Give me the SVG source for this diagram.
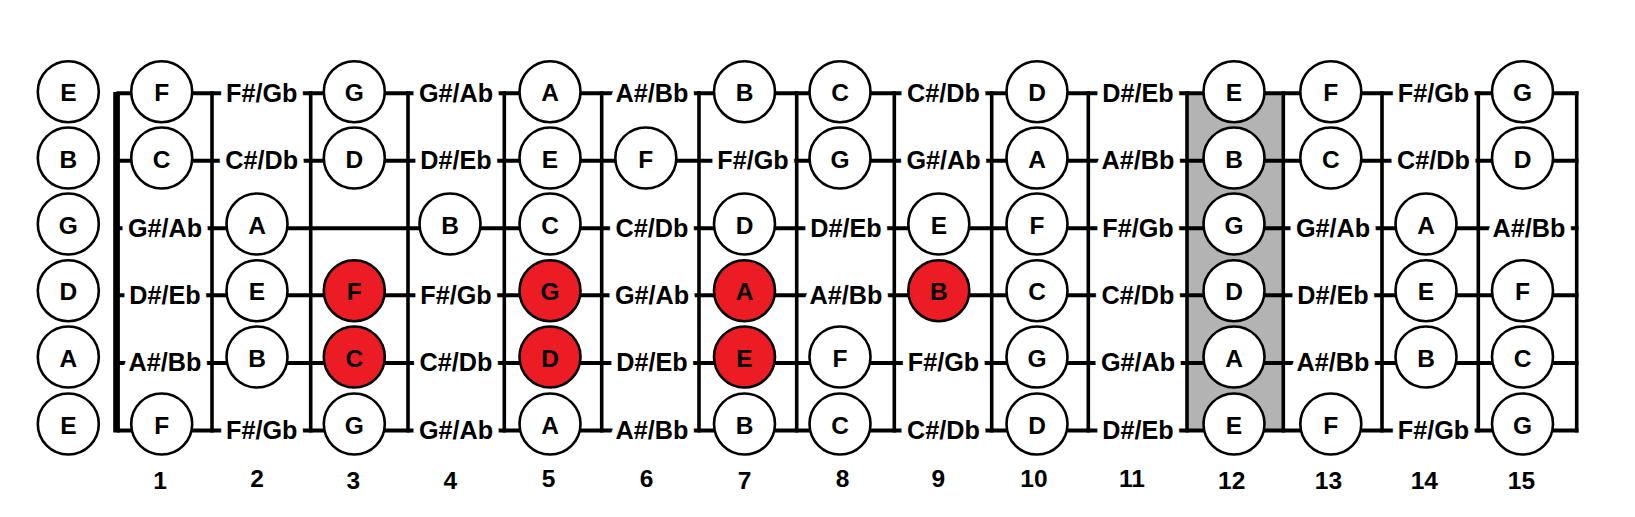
<svg xmlns="http://www.w3.org/2000/svg" width="1635" height="517" viewBox="0 0 1635 517">
<style>
.bg{fill:#ffffff}
.str{stroke:#000;stroke-width:4;fill:none}
.fret{stroke:#000;stroke-width:3.6;fill:none}
.c{fill:#ffffff;stroke:#000;stroke-width:2.6}
.red{fill:#ec1c24}
text{font-family:"Liberation Sans",Arial,Helvetica,sans-serif;font-weight:bold;font-size:24.5px;text-anchor:middle;fill:#000}
.l{font-size:25.2px;stroke:#ffffff;stroke-width:13;stroke-linejoin:round;paint-order:stroke}
</style>
<rect class="bg" x="0" y="0" width="1635" height="517"/>
<rect id="fret12-highlight" x="1187" y="94" width="96.3" height="337.5" fill="#b3b3b3"/>
<g id="connectors">
<line class="str" x1="116.5" y1="93.3" x2="1578.5" y2="93.3"/>
<line class="str" x1="116.5" y1="160.8" x2="1578.5" y2="160.8"/>
<line class="str" x1="116.5" y1="228.2" x2="1578.5" y2="228.2"/>
<line class="str" x1="116.5" y1="295.3" x2="1578.5" y2="295.3"/>
<line class="str" x1="116.5" y1="363" x2="1578.5" y2="363"/>
<line class="str" x1="116.5" y1="430.5" x2="1578.5" y2="430.5"/>
<line class="fret" x1="212" y1="91.3" x2="212" y2="432.5"/>
<line class="fret" x1="310.7" y1="91.3" x2="310.7" y2="432.5"/>
<line class="fret" x1="408" y1="91.3" x2="408" y2="432.5"/>
<line class="fret" x1="504.3" y1="91.3" x2="504.3" y2="432.5"/>
<line class="fret" x1="601.7" y1="91.3" x2="601.7" y2="432.5"/>
<line class="fret" x1="699" y1="91.3" x2="699" y2="432.5"/>
<line class="fret" x1="796.7" y1="91.3" x2="796.7" y2="432.5"/>
<line class="fret" x1="894.3" y1="91.3" x2="894.3" y2="432.5"/>
<line class="fret" x1="991.7" y1="91.3" x2="991.7" y2="432.5"/>
<line class="fret" x1="1088.3" y1="91.3" x2="1088.3" y2="432.5"/>
<line class="fret" x1="1187" y1="91.3" x2="1187" y2="432.5"/>
<line class="fret" x1="1283.3" y1="91.3" x2="1283.3" y2="432.5"/>
<line class="fret" x1="1382" y1="91.3" x2="1382" y2="432.5"/>
<line class="fret" x1="1478.3" y1="91.3" x2="1478.3" y2="432.5"/>
<line class="fret" x1="1576.7" y1="91.3" x2="1576.7" y2="432.5"/>
<rect id="nut" x="113.2" y="92" width="6.7" height="340.5" fill="#000"/>
</g>
<g id="open">
<g id="o1"><circle class="c" cx="68.3" cy="91.7" r="30.5"/><text x="68.3" y="101.2">E</text></g>
<g id="o2"><circle class="c" cx="68.3" cy="158" r="30.5"/><text x="68.3" y="167.5">B</text></g>
<g id="o3"><circle class="c" cx="68.3" cy="224" r="30.5"/><text x="68.3" y="233.5">G</text></g>
<g id="o4"><circle class="c" cx="68.3" cy="290.7" r="30.5"/><text x="68.3" y="300.2">D</text></g>
<g id="o5"><circle class="c" cx="68.3" cy="357" r="30.5"/><text x="68.3" y="366.5">A</text></g>
<g id="o6"><circle class="c" cx="68.3" cy="424" r="30.5"/><text x="68.3" y="433.5">E</text></g>
</g>
<g id="row1">
<g id="r1f1"><circle class="c" cx="161.7" cy="91.7" r="30.5"/><text x="161.7" y="101.2">F</text></g>
<g id="r1f2"><text class="l" x="261.7" y="101.7">F#/Gb</text></g>
<g id="r1f3"><circle class="c" cx="354.3" cy="91.7" r="30.5"/><text x="354.3" y="101.2">G</text></g>
<g id="r1f4"><text class="l" x="456" y="101.7">G#/Ab</text></g>
<g id="r1f5"><circle class="c" cx="550" cy="91.7" r="30.5"/><text x="550" y="101.2">A</text></g>
<g id="r1f6"><text class="l" x="652" y="101.7">A#/Bb</text></g>
<g id="r1f7"><circle class="c" cx="744.5" cy="91.7" r="30.5"/><text x="744.5" y="101.2">B</text></g>
<g id="r1f8"><circle class="c" cx="840" cy="91.7" r="30.5"/><text x="840" y="101.2">C</text></g>
<g id="r1f9"><text class="l" x="943.5" y="101.7">C#/Db</text></g>
<g id="r1f10"><circle class="c" cx="1037" cy="91.7" r="30.5"/><text x="1037" y="101.2">D</text></g>
<g id="r1f11"><text class="l" x="1138" y="101.7">D#/Eb</text></g>
<g id="r1f12"><circle class="c" cx="1234" cy="91.7" r="30.5"/><text x="1234" y="101.2">E</text></g>
<g id="r1f13"><circle class="c" cx="1330.8" cy="91.7" r="30.5"/><text x="1330.8" y="101.2">F</text></g>
<g id="r1f14"><text class="l" x="1433.5" y="101.7">F#/Gb</text></g>
<g id="r1f15"><circle class="c" cx="1522.5" cy="91.7" r="30.5"/><text x="1522.5" y="101.2">G</text></g>
</g>
<g id="row2">
<g id="r2f1"><circle class="c" cx="161.7" cy="158" r="30.5"/><text x="161.7" y="167.5">C</text></g>
<g id="r2f2"><text class="l" x="261.7" y="169.2">C#/Db</text></g>
<g id="r2f3"><circle class="c" cx="354.3" cy="158" r="30.5"/><text x="354.3" y="167.5">D</text></g>
<g id="r2f4"><text class="l" x="456" y="169.2">D#/Eb</text></g>
<g id="r2f5"><circle class="c" cx="550" cy="158" r="30.5"/><text x="550" y="167.5">E</text></g>
<g id="r2f6"><circle class="c" cx="645.8" cy="158" r="30.5"/><text x="645.8" y="167.5">F</text></g>
<g id="r2f7"><text class="l" x="753" y="169.2">F#/Gb</text></g>
<g id="r2f8"><circle class="c" cx="840" cy="158" r="30.5"/><text x="840" y="167.5">G</text></g>
<g id="r2f9"><text class="l" x="943.5" y="169.2">G#/Ab</text></g>
<g id="r2f10"><circle class="c" cx="1037" cy="158" r="30.5"/><text x="1037" y="167.5">A</text></g>
<g id="r2f11"><text class="l" x="1138" y="169.2">A#/Bb</text></g>
<g id="r2f12"><circle class="c" cx="1234" cy="158" r="30.5"/><text x="1234" y="167.5">B</text></g>
<g id="r2f13"><circle class="c" cx="1330.8" cy="158" r="30.5"/><text x="1330.8" y="167.5">C</text></g>
<g id="r2f14"><text class="l" x="1433.5" y="169.2">C#/Db</text></g>
<g id="r2f15"><circle class="c" cx="1522.5" cy="158" r="30.5"/><text x="1522.5" y="167.5">D</text></g>
</g>
<g id="row3">
<g id="r3f1"><text class="l" x="165" y="236.6">G#/Ab</text></g>
<g id="r3f2"><circle class="c" cx="257" cy="224" r="30.5"/><text x="257" y="233.5">A</text></g>
<g id="r3f4"><circle class="c" cx="450" cy="224" r="30.5"/><text x="450" y="233.5">B</text></g>
<g id="r3f5"><circle class="c" cx="550" cy="224" r="30.5"/><text x="550" y="233.5">C</text></g>
<g id="r3f6"><text class="l" x="652" y="236.6">C#/Db</text></g>
<g id="r3f7"><circle class="c" cx="744.5" cy="224" r="30.5"/><text x="744.5" y="233.5">D</text></g>
<g id="r3f8"><text class="l" x="846" y="236.6">D#/Eb</text></g>
<g id="r3f9"><circle class="c" cx="938.8" cy="224" r="30.5"/><text x="938.8" y="233.5">E</text></g>
<g id="r3f10"><circle class="c" cx="1037" cy="224" r="30.5"/><text x="1037" y="233.5">F</text></g>
<g id="r3f11"><text class="l" x="1138" y="236.6">F#/Gb</text></g>
<g id="r3f12"><circle class="c" cx="1234" cy="224" r="30.5"/><text x="1234" y="233.5">G</text></g>
<g id="r3f13"><text class="l" x="1333" y="236.6">G#/Ab</text></g>
<g id="r3f14"><circle class="c" cx="1426" cy="224" r="30.5"/><text x="1426" y="233.5">A</text></g>
<g id="r3f15"><text class="l" x="1529" y="236.6">A#/Bb</text></g>
</g>
<g id="row4">
<g id="r4f1"><text class="l" x="165" y="303.7">D#/Eb</text></g>
<g id="r4f2"><circle class="c" cx="257" cy="290.7" r="30.5"/><text x="257" y="300.2">E</text></g>
<g id="r4f3"><circle class="c red" cx="354.3" cy="290.7" r="30.5"/><text x="354.3" y="300.2">F</text></g>
<g id="r4f4"><text class="l" x="456" y="303.7">F#/Gb</text></g>
<g id="r4f5"><circle class="c red" cx="550" cy="290.7" r="30.5"/><text x="550" y="300.2">G</text></g>
<g id="r4f6"><text class="l" x="652" y="303.7">G#/Ab</text></g>
<g id="r4f7"><circle class="c red" cx="744.5" cy="290.7" r="30.5"/><text x="744.5" y="300.2">A</text></g>
<g id="r4f8"><text class="l" x="846" y="303.7">A#/Bb</text></g>
<g id="r4f9"><circle class="c red" cx="938.8" cy="290.7" r="30.5"/><text x="938.8" y="300.2">B</text></g>
<g id="r4f10"><circle class="c" cx="1037" cy="290.7" r="30.5"/><text x="1037" y="300.2">C</text></g>
<g id="r4f11"><text class="l" x="1138" y="303.7">C#/Db</text></g>
<g id="r4f12"><circle class="c" cx="1234" cy="290.7" r="30.5"/><text x="1234" y="300.2">D</text></g>
<g id="r4f13"><text class="l" x="1333" y="303.7">D#/Eb</text></g>
<g id="r4f14"><circle class="c" cx="1426" cy="290.7" r="30.5"/><text x="1426" y="300.2">E</text></g>
<g id="r4f15"><circle class="c" cx="1522.5" cy="290.7" r="30.5"/><text x="1522.5" y="300.2">F</text></g>
</g>
<g id="row5">
<g id="r5f1"><text class="l" x="165" y="371.4">A#/Bb</text></g>
<g id="r5f2"><circle class="c" cx="257" cy="357" r="30.5"/><text x="257" y="366.5">B</text></g>
<g id="r5f3"><circle class="c red" cx="354.3" cy="357" r="30.5"/><text x="354.3" y="366.5">C</text></g>
<g id="r5f4"><text class="l" x="456" y="371.4">C#/Db</text></g>
<g id="r5f5"><circle class="c red" cx="550" cy="357" r="30.5"/><text x="550" y="366.5">D</text></g>
<g id="r5f6"><text class="l" x="652" y="371.4">D#/Eb</text></g>
<g id="r5f7"><circle class="c red" cx="744.5" cy="357" r="30.5"/><text x="744.5" y="366.5">E</text></g>
<g id="r5f8"><circle class="c" cx="840" cy="357" r="30.5"/><text x="840" y="366.5">F</text></g>
<g id="r5f9"><text class="l" x="943.5" y="371.4">F#/Gb</text></g>
<g id="r5f10"><circle class="c" cx="1037" cy="357" r="30.5"/><text x="1037" y="366.5">G</text></g>
<g id="r5f11"><text class="l" x="1138" y="371.4">G#/Ab</text></g>
<g id="r5f12"><circle class="c" cx="1234" cy="357" r="30.5"/><text x="1234" y="366.5">A</text></g>
<g id="r5f13"><text class="l" x="1333" y="371.4">A#/Bb</text></g>
<g id="r5f14"><circle class="c" cx="1426" cy="357" r="30.5"/><text x="1426" y="366.5">B</text></g>
<g id="r5f15"><circle class="c" cx="1522.5" cy="357" r="30.5"/><text x="1522.5" y="366.5">C</text></g>
</g>
<g id="row6">
<g id="r6f1"><circle class="c" cx="161.7" cy="424" r="30.5"/><text x="161.7" y="433.5">F</text></g>
<g id="r6f2"><text class="l" x="261.7" y="438.9">F#/Gb</text></g>
<g id="r6f3"><circle class="c" cx="354.3" cy="424" r="30.5"/><text x="354.3" y="433.5">G</text></g>
<g id="r6f4"><text class="l" x="456" y="438.9">G#/Ab</text></g>
<g id="r6f5"><circle class="c" cx="550" cy="424" r="30.5"/><text x="550" y="433.5">A</text></g>
<g id="r6f6"><text class="l" x="652" y="438.9">A#/Bb</text></g>
<g id="r6f7"><circle class="c" cx="744.5" cy="424" r="30.5"/><text x="744.5" y="433.5">B</text></g>
<g id="r6f8"><circle class="c" cx="840" cy="424" r="30.5"/><text x="840" y="433.5">C</text></g>
<g id="r6f9"><text class="l" x="943.5" y="438.9">C#/Db</text></g>
<g id="r6f10"><circle class="c" cx="1037" cy="424" r="30.5"/><text x="1037" y="433.5">D</text></g>
<g id="r6f11"><text class="l" x="1138" y="438.9">D#/Eb</text></g>
<g id="r6f12"><circle class="c" cx="1234" cy="424" r="30.5"/><text x="1234" y="433.5">E</text></g>
<g id="r6f13"><circle class="c" cx="1330.8" cy="424" r="30.5"/><text x="1330.8" y="433.5">F</text></g>
<g id="r6f14"><text class="l" x="1433.5" y="438.9">F#/Gb</text></g>
<g id="r6f15"><circle class="c" cx="1522.5" cy="424" r="30.5"/><text x="1522.5" y="433.5">G</text></g>
</g>
<g id="fret-numbers">
<text x="160" y="489.3">1</text>
<text x="257" y="486.7">2</text>
<text x="353.3" y="489.3">3</text>
<text x="450.4" y="489.3">4</text>
<text x="548.5" y="486.7">5</text>
<text x="646.5" y="486.7">6</text>
<text x="744.5" y="489.3">7</text>
<text x="842.5" y="486.7">8</text>
<text x="938.4" y="486.7">9</text>
<text x="1034" y="486.7">10</text>
<text x="1132" y="486.7">11</text>
<text x="1231.7" y="489.3">12</text>
<text x="1328.4" y="489.3">13</text>
<text x="1424.3" y="489.3">14</text>
<text x="1521.4" y="489.3">15</text>
</g>
</svg>
